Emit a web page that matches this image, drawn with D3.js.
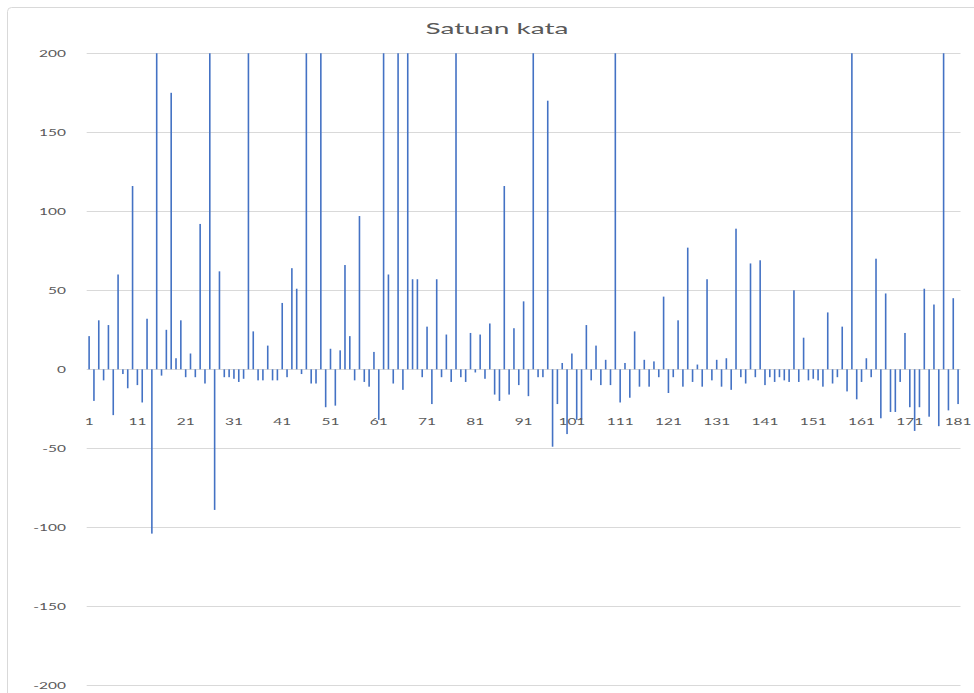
<!DOCTYPE html>
<html>
<head>
<meta charset="utf-8">
<script src="https://cdn.jsdelivr.net/npm/d3@7"></script>
<style>
  html, body { margin: 0; padding: 0; background: #fff; }
  svg { display: block; }
  text { font-family: Lato, "Open Sans", sans-serif; fill: #595959; }
</style>
</head>
<body>
<svg id="chart" width="974" height="693"></svg>
<script>
const title = "Satuan kata";
const categories = d3.range(1, 182);
const values = [
  21, -20, 31, -7, 28, -29, 60, -3, -12, 116,
  -10, -21, 32, -104, 250, -4, 25, 175, 7, 31,
  -5, 10, -5, 92, -9, 250, -89, 62, -5, -5,
  -6, -8, -6, 250, 24, -7, -7, 15, -7, -7,
  42, -5, 64, 51, -3, 250, -9, -9, 250, -24,
  13, -23, 12, 66, 21, -7, 97, -8, -11, 11,
  -32, 250, 60, -9, 250, -13, 250, 57, 57, -5,
  27, -22, 57, -5, 22, -8, 250, -5, -8, 23,
  -2, 22, -6, 29, -16, -20, 116, -16, 26, -10,
  43, -17, 250, -5, -5, 170, -49, -22, 4, -41,
  10, -32, -32, 28, -7, 15, -10, 6, -10, 250,
  -21, 4, -18, 24, -11, 6, -11, 5, -5, 46,
  -15, -5, 31, -11, 77, -8, 3, -11, 57, -7,
  6, -11, 7, -13, 89, -5, -9, 67, -5, 69,
  -10, -5, -8, -5, -7, -8, 50, -8, 20, -7,
  -6, -7, -11, 36, -9, -5, 27, -14, 250, -19,
  -8, 7, -5, 70, -31, 48, -27, -27, -8, 23,
  -24, -39, -24, 51, -30, 41, -36, 250, -26, 45,
  -22
];
const xTickLabels = [1, 11, 21, 31, 41, 51, 61, 71, 81, 91, 101, 111, 121, 131, 141, 151, 161, 171, 181];
const yTicks = [200, 150, 100, 50, 0, -50, -100, -150, -200];

const svg = d3.select("#chart");
const W = 974, H = 693;
const plot = { left: 86.7, right: 960.5, top: 53.3, bottom: 685.3 };
const SX = 1.63; // horizontal text stretch

svg.append("rect").attr("width", W).attr("height", H).attr("fill", "#fff");
svg.append("rect")
  .attr("x", 7.5).attr("y", 7.5).attr("width", 1100).attr("height", 1100)
  .attr("rx", 4)
  .attr("fill", "none").attr("stroke", "#d9d9d9").attr("stroke-width", 1);

const x = d3.scaleBand().domain(categories).range([plot.left, plot.right])
  .paddingInner(0.67).paddingOuter(0.335);
const y = d3.scaleLinear().domain([-200, 200]).range([plot.bottom, plot.top]);

// gridlines
svg.append("g").selectAll("line").data(yTicks).join("line")
  .attr("x1", plot.left).attr("x2", plot.right)
  .attr("y1", d => Math.round(y(d)) + 0.5).attr("y2", d => Math.round(y(d)) + 0.5)
  .attr("stroke", "#d9d9d9").attr("stroke-width", 1);

// clip
svg.append("clipPath").attr("id", "clip").append("rect")
  .attr("x", plot.left).attr("y", plot.top)
  .attr("width", plot.right - plot.left).attr("height", plot.bottom - plot.top);

svg.append("g").attr("clip-path", "url(#clip)")
  .selectAll("rect").data(values).join("rect")
  .attr("x", (d, i) => x(categories[i]))
  .attr("width", x.bandwidth())
  .attr("y", d => y(Math.max(0, d)))
  .attr("height", d => Math.abs(y(d) - y(0)))
  .attr("fill", "#4472c4");

// y labels
svg.append("g").selectAll("text").data(yTicks).join("text")
  .attr("transform", d => `translate(66,${y(d)}) scale(${SX},1)`)
  .attr("text-anchor", "end")
  .attr("dominant-baseline", "central")
  .attr("font-size", 9.5)
  .text(d => String(d));

// x labels
svg.append("g").selectAll("text").data(xTickLabels).join("text")
  .attr("transform", d => `translate(${x(d) + x.bandwidth() / 2},421) scale(${SX},1)`)
  .attr("text-anchor", "middle")
  .attr("dominant-baseline", "central")
  .attr("font-size", 9.5)
  .text(d => String(d));

// title
svg.append("text")
  .attr("x", 497).attr("y", 28)
  .attr("text-anchor", "middle")
  .attr("dominant-baseline", "central")
  .attr("font-size", 15)
  .attr("textLength", 143)
  .attr("lengthAdjust", "spacingAndGlyphs")
  .text(title);
</script>
</body>
</html>
